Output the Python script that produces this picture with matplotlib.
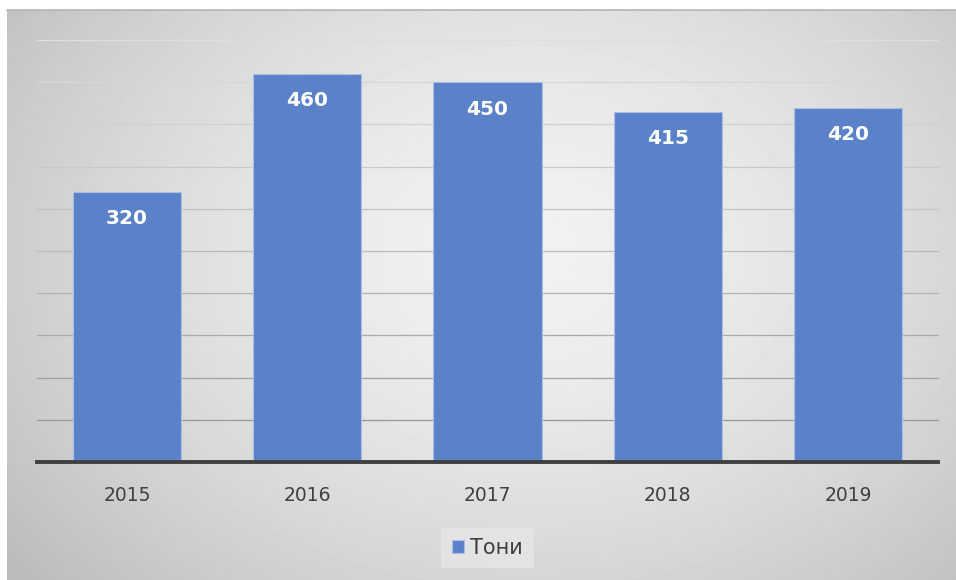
import matplotlib
matplotlib.use("Agg")
from matplotlib import pyplot as plt
import numpy as np

# data
years = ["2015", "2016", "2017", "2018", "2019"]
tons = [320, 460, 450, 415, 420]
series_name = "Тони"

bar_color = "#5b82c8"
W, H = 956, 580

fig = plt.figure(figsize=(W / 100, H / 100), dpi=100)
fig.patch.set_facecolor("white")

# gray radial background of the chart area
x0, y0 = 7, 10
bg = fig.add_axes([x0 / W, 0, (W - x0) / W, (H - y0) / H], zorder=-2)
yy, xx = np.mgrid[0:H - y0, 0:W - x0]
cx, cy = 520, 240
r = np.sqrt(((xx - cx) / 560.0) ** 2 + ((yy - cy) / 420.0) ** 2)
shade = 0.945 - 0.16 * np.clip(r, 0, 1.2) ** 1.6
bg.imshow(shade, cmap="gray", vmin=0, vmax=1, aspect="auto", interpolation="bilinear")
bg.axis("off")
# thin line on top of the gray area
fig.add_artist(plt.Line2D([x0 / W, 1], [1 - y0 / H, 1 - y0 / H], color="#b4b4b4", lw=1.2))

# plot area
left, right, top, base = 37, 938, 40, 462
ax = fig.add_axes([left / W, 1 - base / H, (right - left) / W, (base - top) / H])
ax.set_facecolor("none")

x = np.arange(len(years))
ax.bar(x, tons, width=0.6, color=bar_color, edgecolor="#a9bfe6", linewidth=0.8,
       zorder=3, label=series_name)

ax.set_xlim(-0.5, len(years) - 0.5)
ax.set_ylim(0, 500)

# gridlines get darker toward the bottom
for v in range(50, 501, 50):
    t = v / 500
    c = 0.54 + 0.33 * t ** 0.8
    ax.axhline(v, color=(c, c, c), lw=0.9, zorder=1, clip_on=False)
ax.axhline(0, color="#404040", lw=2.8, zorder=4, clip_on=False)

for xi, v in zip(x, tons):
    ax.text(xi, v - 32, str(v), ha="center", va="center", color="white",
            fontsize=14.5, fontweight="bold", zorder=5)

ax.set_xticks(x)
ax.set_xticklabels(years, fontsize=13.5, color="#404040")
ax.tick_params(axis="x", length=0, pad=17)
ax.set_yticks([])
for s in ax.spines.values():
    s.set_visible(False)

leg = ax.legend(loc="center", bbox_to_anchor=(0.5, (base - 548) / (base - top)),
                frameon=True, fontsize=15, handlelength=0.6, handleheight=0.6,
                handletextpad=0.3, borderpad=0.5, fancybox=False)
leg.get_frame().set_facecolor("#e6e6e6")
leg.get_frame().set_edgecolor("none")
leg.get_frame().set_alpha(0.8)
for t in leg.get_texts():
    t.set_color("#404040")

fig.savefig("out.png", dpi=100)
